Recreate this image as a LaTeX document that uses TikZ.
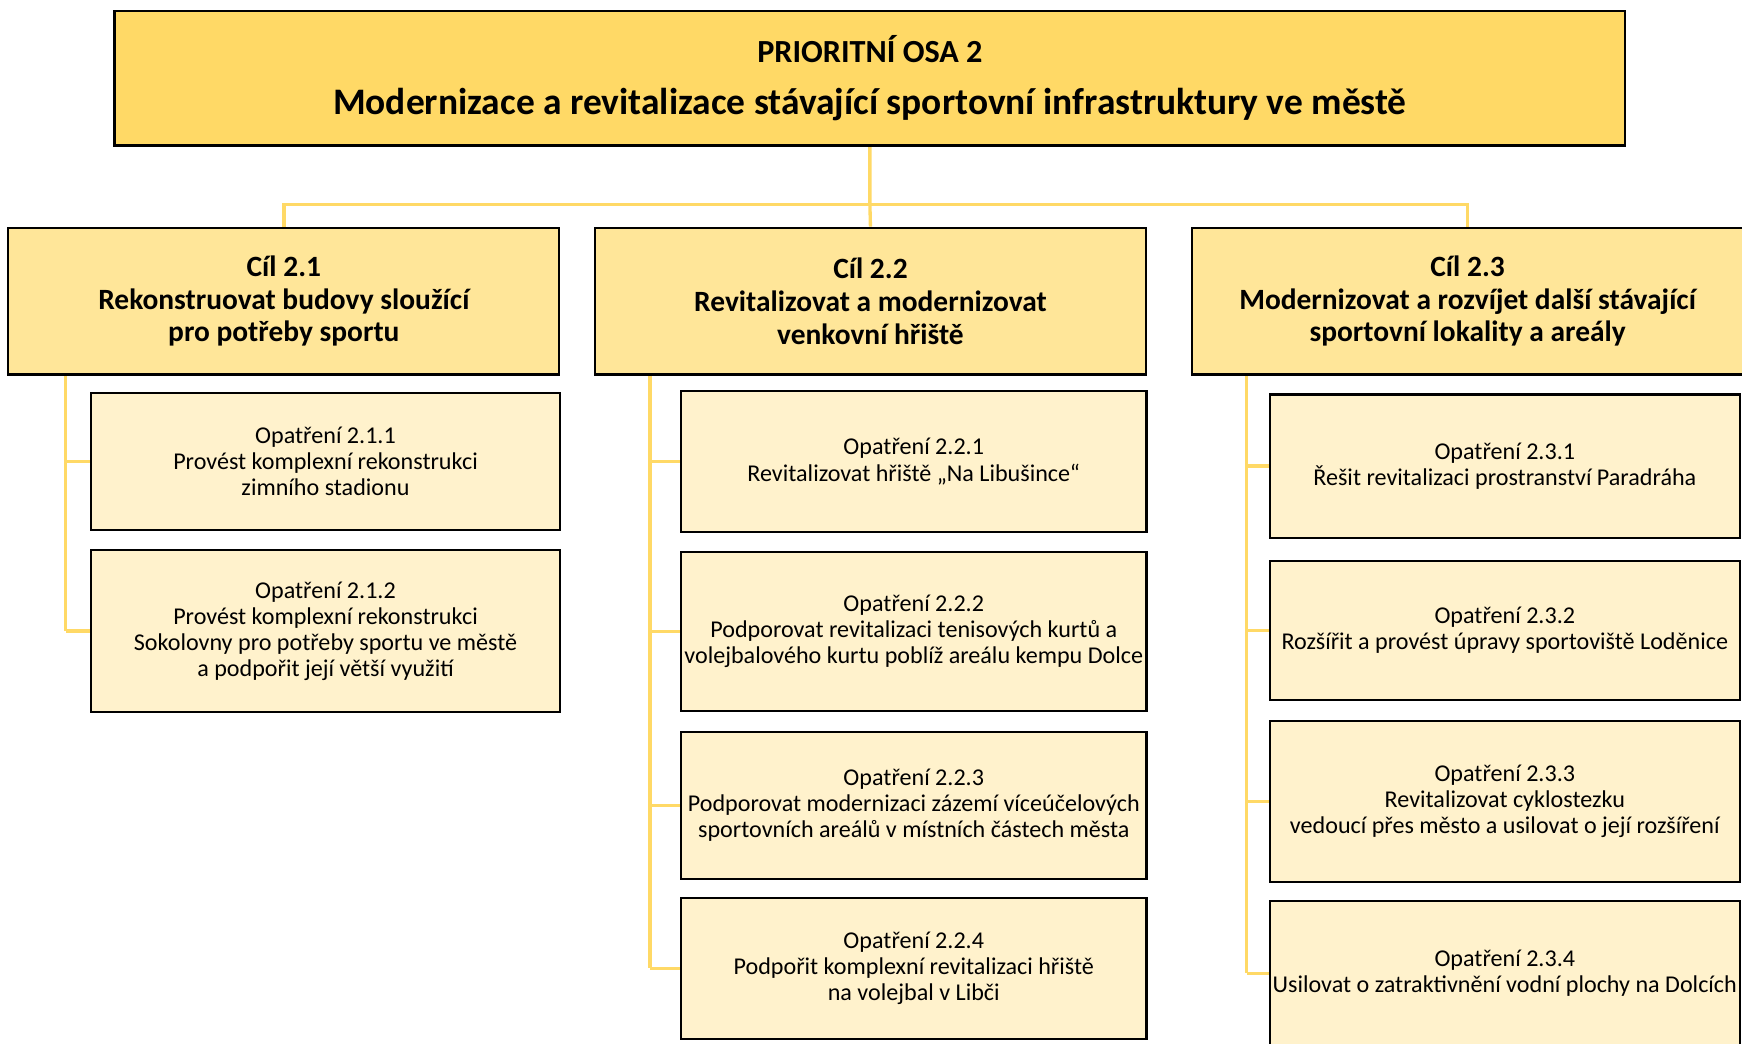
\documentclass[tikz,border=0pt]{standalone}
\usepackage{fontspec}
\setmainfont{Carlito}
\usetikzlibrary{backgrounds, positioning, calc}
\definecolor{osagold}{RGB}{255, 217, 102}
\definecolor{cilgold}{RGB}{255, 230, 153}
\definecolor{opatrenigold}{RGB}{255, 242, 204}

\tikzset{
  osabox/.style={draw=black, line width=2pt, fill=osagold, align=center, inner sep=0pt,
    font=\fontsize{33.7}{47}\selectfont\bfseries},
  cilbox/.style={draw=black, line width=2pt, fill=cilgold, align=center, inner sep=0pt,
    minimum width=496pt, minimum height=132pt, font=\fontsize{26.5}{29.5}\selectfont\bfseries},
  opbox/.style={draw=black, line width=2pt, fill=opatrenigold, align=center, inner sep=0pt,
    font=\fontsize{21.7}{23.5}\selectfont},
  link/.style={osagold, line width=3pt}
}

\begin{document}
\begin{tikzpicture}[x=1pt, y=-1pt]
    \useasboundingbox (0,0) rectangle (1568,939);
    \clip (0,0) rectangle (1568,939);
    % priority axis
    \node[osabox, minimum width=1360pt, minimum height=121pt] (osa) at (783,70.5)
      {{\fontsize{29}{35}\selectfont PRIORITNÍ OSA 2}\\
       Modernizace a revitalizace stávající sportovní infrastruktury ve městě};
    % goals
    \node[cilbox] (cil21) at (255.5,271) {Cíl 2.1\\Rekonstruovat budovy sloužící\\pro potřeby sportu};
    \node[cilbox] (cil22) at (783.5,271) {Cíl 2.2\\Revitalizovat a modernizovat\\venkovní hřiště};
    \node[cilbox] (cil23) at (1321,271) {Cíl 2.3\\Modernizovat a rozvíjet další stávající\\sportovní lokality a areály};
    % measures 2.1
    \node[opbox, minimum width=422pt, minimum height=123pt] (op211) at (293,415.5)
      {Opatření 2.1.1\\Provést komplexní rekonstrukci\\zimního stadionu};
    \node[opbox, minimum width=422pt, minimum height=146pt] (op212) at (293,568)
      {Opatření 2.1.2\\Provést komplexní rekonstrukci\\Sokolovny pro potřeby sportu ve městě\\a podpořit její větší využití};
    % measures 2.2
    \node[opbox, minimum width=419pt, minimum height=127pt] (op221) at (822.5,415.5)
      {Opatření 2.2.1\\Revitalizovat hřiště „Na Libušince“};
    \node[opbox, minimum width=419pt, minimum height=143pt] (op222) at (822.5,568.5)
      {Opatření 2.2.2\\Podporovat revitalizaci tenisových kurtů a\\volejbalového kurtu poblíž areálu kempu Dolce};
    \node[opbox, minimum width=419pt, minimum height=132pt] (op223) at (822.5,725)
      {Opatření 2.2.3\\Podporovat modernizaci zázemí víceúčelových\\sportovních areálů v místních částech města};
    \node[opbox, minimum width=419pt, minimum height=127pt] (op224) at (822.5,871.5)
      {Opatření 2.2.4\\Podpořit komplexní revitalizaci hřiště\\na volejbal v Libči};
    % measures 2.3
    \node[opbox, minimum width=423pt, minimum height=129pt] (op231) at (1354.5,419.5)
      {Opatření 2.3.1\\Řešit revitalizaci prostranství Paradráha};
    \node[opbox, minimum width=423pt, minimum height=125pt] (op232) at (1354.5,567.5)
      {Opatření 2.3.2\\Rozšířit a provést úpravy sportoviště Loděnice};
    \node[opbox, minimum width=423pt, minimum height=145pt] (op233) at (1354.5,721.5)
      {Opatření 2.3.3\\Revitalizovat cyklostezku\\vedoucí přes město a usilovat o její rozšíření};
    \node[opbox, minimum width=423pt, minimum height=130pt] (op234) at (1354.5,876)
      {Opatření 2.3.4\\Usilovat o zatraktivnění vodní plochy na Dolcích};

    \begin{scope}[on background layer]
      \coordinate (bus) at (783,184);
      \draw[link] (osa.south) -- (bus) -- (cil22.north);
      \draw[link] (cil21.north) |- (bus) -| (cil23.north);
      % trunks
      \coordinate (trunk21) at (59,337);
      \coordinate (trunk22) at (585,337);
      \coordinate (trunk23) at (1122,337);
      \draw[link] (trunk21) -- (trunk21 |- op212.west);
      \draw[link] (trunk22) -- (trunk22 |- op224.west);
      \draw[link] (trunk23) -- (trunk23 |- op234.west);
      \foreach \n in {op211, op212} \draw[link] (trunk21 |- \n.west) -- (\n.west);
      \foreach \n in {op221, op222, op223, op224} \draw[link] (trunk22 |- \n.west) -- (\n.west);
      \foreach \n in {op231, op232, op233, op234} \draw[link] (trunk23 |- \n.west) -- (\n.west);
    \end{scope}
\end{tikzpicture}
\end{document}
